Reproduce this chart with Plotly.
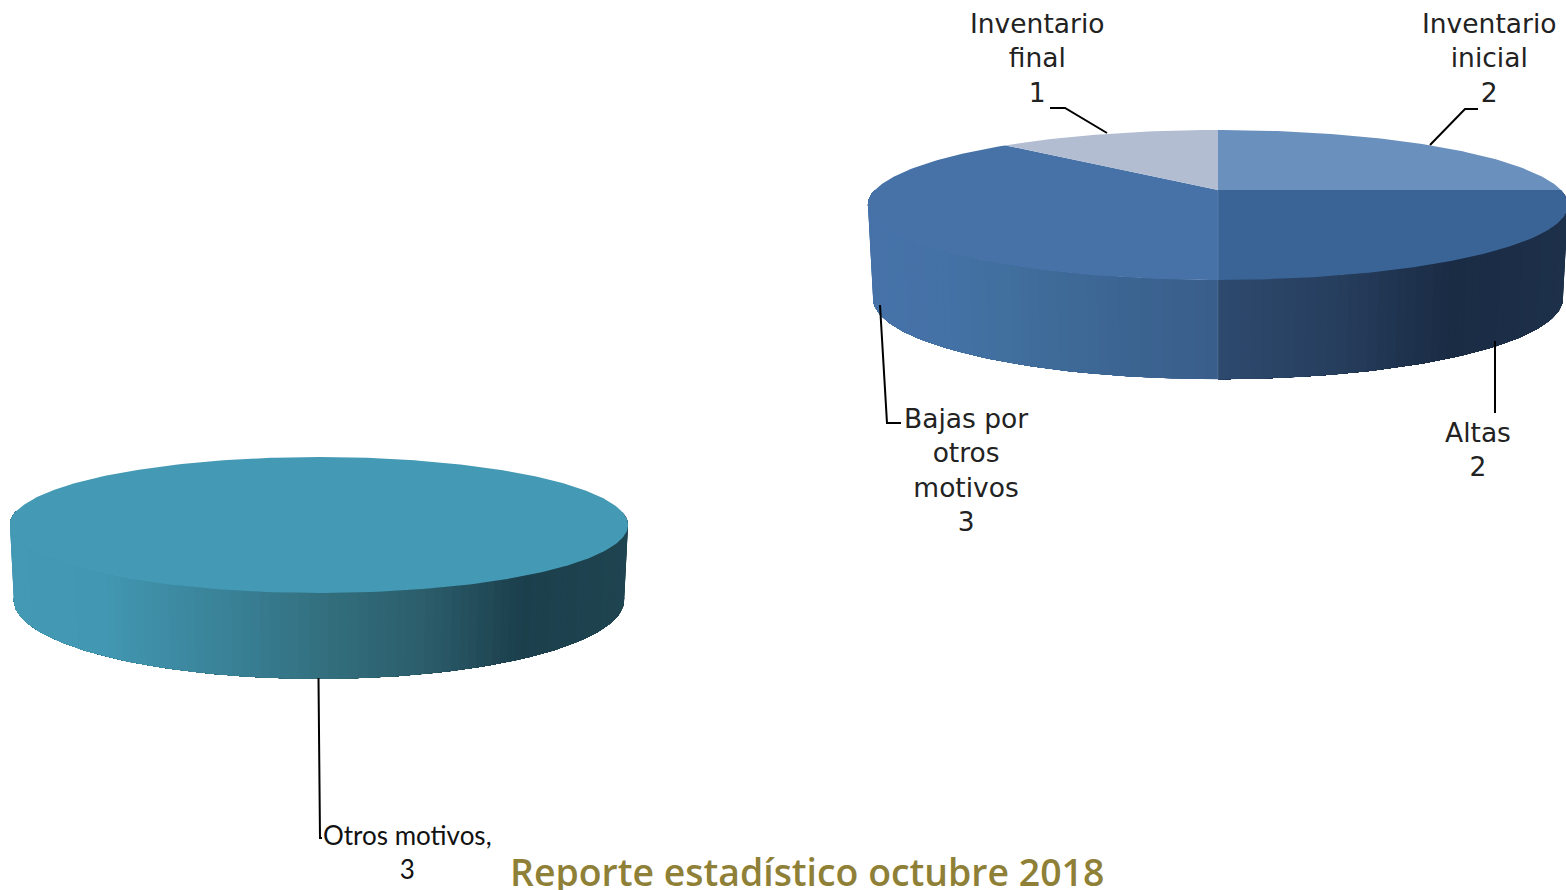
import math
import plotly.graph_objects as go

# ---- data ----
categories_right = ["Inventario inicial", "Altas", "Bajas por otros motivos", "Inventario final"]
values_right = [2, 2, 3, 1]
categories_left = ["Otros motivos"]
values_left = [3]
title_text = "Reporte estadístico octubre 2018"

# ---- style ----
top_colors_right = ["#6A90BD", "#3B6496", "#4672A8", "#B2BDD2"]
top_colors_left = ["#4499B4"]
wall_right = [
    [(0, "#1D3049"), (1, "#1D3049")],
    [(1218, "#2D4A6E"), (1330, "#273F5F"), (1450, "#1A2B44"), (1566, "#1E314A")],
    [(868, "#4672A8"), (950, "#4471A6"), (1000, "#41709F"), (1100, "#3D6694"), (1218, "#395E8B")],
    [(0, "#B2BDD2"), (1, "#B2BDD2")],
]
wall_left = [[(10, "#4499B4"), (100, "#4298B3"), (220, "#3A8399"), (319, "#33707F"),
              (420, "#2C5E6C"), (520, "#1C3F4C"), (628, "#1F4551")]]

# geometry: cx, top(A, a, c), bottom(A, a, c), perspective
geo_right = dict(cx=1218, top=(343, 72, 190), bot=(338, 77.7, 282), b=0.2)
geo_left = dict(cx=319, top=(302.8, 65.3, 511.4), bot=(299, 75.8, 584), b=0.2)


def rim(geo, key, deg):
    A, a, c = geo[key]
    t = math.radians(deg)
    u, v = math.sin(t), math.cos(t)
    d = 1 + geo["b"] * v
    return geo["cx"] + A * u / d, c - a * v / d


def hex2rgb(h):
    return tuple(int(h[i:i + 2], 16) for i in (1, 3, 5))


def grad(stops, x):
    if x <= stops[0][0]:
        return stops[0][1]
    for (x0, c0), (x1, c1) in zip(stops, stops[1:]):
        if x <= x1:
            f = (x - x0) / (x1 - x0)
            r0, r1 = hex2rgb(c0), hex2rgb(c1)
            return "#%02X%02X%02X" % tuple(round(p + (q - p) * f) for p, q in zip(r0, r1))
    return stops[-1][1]


fig = go.Figure()


def add_poly(xs, ys, color):
    fig.add_trace(go.Scatter(x=xs, y=ys, mode="lines", fill="toself", fillcolor=color,
                             line=dict(color=color, width=0), hoverinfo="skip", showlegend=False))


def draw_pie(values, names, tops, walls, geo):
    total = sum(values)
    angle = 0.0
    spans = []
    for val in values:
        sweep = 360.0 * val / total
        spans.append((angle, angle + sweep))
        angle += sweep
    # walls on the near half first; each strip runs to the end of the slice, later strips paint over it
    for (a0, a1), stops in zip(spans, walls):
        lo, hi = max(a0, 90.0), min(a1, 270.0)
        if hi <= lo:
            continue
        steps = max(1, int((hi - lo) / 1.5))
        for k in range(steps):
            d0 = lo + (hi - lo) * k / steps
            d1 = lo + (hi - lo) * (k + 1) / steps
            ends = [lo + (hi - lo) * i / steps for i in range(k, steps + 1)]
            upper = [rim(geo, "top", d) for d in ends]
            lower = [rim(geo, "bot", d) for d in reversed(ends)]
            ring = upper + lower + upper[:1]
            col = grad(stops, (rim(geo, "bot", d0)[0] + rim(geo, "bot", d1)[0]) / 2)
            add_poly([p[0] for p in ring], [p[1] for p in ring], col)
    # top faces
    cx, cy = geo["cx"], geo["top"][2]
    for (a0, a1), col, name in zip(spans, tops, names):
        n = max(2, int((a1 - a0) / 1.0))
        pts = [rim(geo, "top", a0 + (a1 - a0) * i / n) for i in range(n + 1)]
        if a1 - a0 >= 360:
            xs, ys = [p[0] for p in pts], [p[1] for p in pts]
        else:
            xs = [cx] + [p[0] for p in pts] + [cx]
            ys = [cy] + [p[1] for p in pts] + [cy]
        add_poly(xs, ys, col)
    # faint seam where two slices meet on the near side
    for (a0, a1) in spans:
        if 90 < a0 < 270:
            p, q = rim(geo, "top", a0), rim(geo, "bot", a0)
            fig.add_trace(go.Scatter(x=[cx, p[0], q[0]], y=[cy, p[1], q[1]], mode="lines",
                                     line=dict(color="rgba(255,255,255,0.12)", width=1),
                                     hoverinfo="skip", showlegend=False))


draw_pie(values_right, categories_right, top_colors_right, wall_right, geo_right)
draw_pie(values_left, categories_left, top_colors_left, wall_left, geo_left)

GOTHIC = "DejaVu Sans"
labels = [
    (1037, 58, ["Inventario", "final", str(values_right[3])], GOTHIC, 26.5),
    (1489, 58, ["Inventario", "inicial", str(values_right[0])], GOTHIC, 26.5),
    (1478, 449, ["Altas", str(values_right[1])], GOTHIC, 26.5),
    (966, 470, ["Bajas por", "otros", "motivos", str(values_right[2])], GOTHIC, 26.5),
    (407.5, 852, ["Otros motivos,", str(values_left[0])], "Lato", 26),
]
annotations = [dict(x=x, y=y, text="<br>".join(lines), xref="x", yref="y", showarrow=False,
                    xanchor="center", yanchor="middle", align="center",
                    font=dict(family=fam, size=size, color="#222222" if fam == GOTHIC else "#111111"))
               for x, y, lines, fam, size in labels]
annotations.append(dict(x=806.5, y=871.5, text=title_text, xref="x", yref="y", showarrow=False,
                        xanchor="center", yanchor="middle",
                        font=dict(family="Open Sans", size=37.4, weight=600, color="#8F8037")))

leaders = [
    [(1430, 145), (1465, 109), (1478, 109)],
    [(1107, 133), (1065, 108), (1050, 108)],
    [(1495, 341), (1495, 413)],
    [(880, 305), (887, 423), (901, 423)],
    [(318.5, 678), (320, 838), (322, 838)],
]
shapes = []
for pts in leaders:
    path = "M " + " L ".join("%g,%g" % p for p in pts)
    shapes.append(dict(type="path", path=path, xref="x", yref="y", line=dict(color="#000000", width=2)))

fig.update_layout(
    width=1566, height=890, margin=dict(l=0, r=0, t=0, b=0),
    paper_bgcolor="white", plot_bgcolor="white", showlegend=False,
    xaxis=dict(range=[0, 1566], visible=False, fixedrange=True),
    yaxis=dict(range=[890, 0], visible=False, fixedrange=True),
    annotations=annotations, shapes=shapes,
)
fig.write_html("out.html", config={"displayModeBar": False},
               post_script="document.body.style.margin='0';document.body.style.overflow='hidden';")
